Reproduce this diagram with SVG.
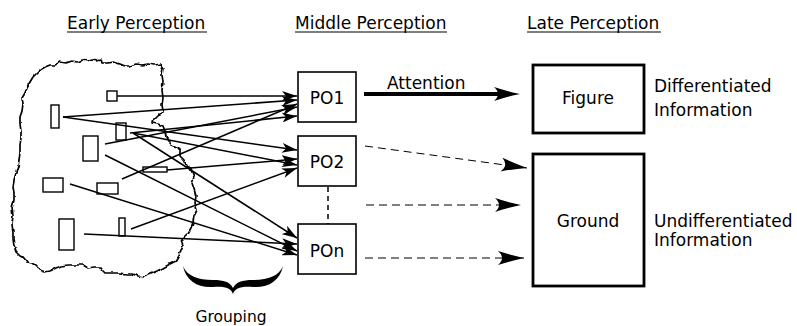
<svg xmlns="http://www.w3.org/2000/svg" width="797" height="326" viewBox="0 0 797 326">
<style>
text{font-family:"DejaVu Sans","Liberation Sans",sans-serif;font-size:17px;fill:#000}
.ul{stroke:#000;stroke-width:1.2}
.el{fill:#fff;stroke:#000;stroke-width:1.4}
.po{fill:#fff;stroke:#000;stroke-width:1.6}
.big{fill:#fff;stroke:#000;stroke-width:2.8}
.ln{stroke:#000;stroke-width:1.5;fill:none;marker-end:url(#sm)}
.dash{stroke:#000;stroke-width:1;fill:none;stroke-dasharray:8 5;marker-end:url(#bh)}
.mid{text-anchor:middle}
</style>
<defs>
<marker id="sm" markerUnits="userSpaceOnUse" viewBox="0 0 15 10" markerWidth="15" markerHeight="10" refX="15" refY="5" orient="auto"><path d="M0,0 L15,5 L0,10 L4,5 Z" fill="#000"/></marker>
<marker id="bh" markerUnits="userSpaceOnUse" viewBox="0 0 26 14" markerWidth="26" markerHeight="14" refX="26" refY="7" orient="auto"><path d="M0,0 Q12,4 26,7 Q12,10 0,14 Q8,7 0,0 Z" fill="#000"/></marker>
<marker id="ath" markerUnits="userSpaceOnUse" viewBox="0 0 26 14" markerWidth="26" markerHeight="14" refX="8" refY="7" orient="auto"><path d="M0,0 Q12,4 26,7 Q12,10 0,14 Q8,7 0,0 Z" fill="#000"/></marker>
<filter id="rough" x="-5%" y="-5%" width="110%" height="110%">
<feTurbulence type="fractalNoise" baseFrequency="0.14" numOctaves="2" seed="4" result="n"/>
<feDisplacementMap in="SourceGraphic" in2="n" scale="4" xChannelSelector="R" yChannelSelector="G"/>
</filter>
</defs>
<rect width="797" height="326" fill="#fff"/>

<g id="headers">
<text x="67" y="29">Early Perception</text>
<line class="ul" x1="67" y1="32" x2="207" y2="32"/>
<text x="295" y="29">Middle Perception</text>
<line class="ul" x1="295" y1="32" x2="447" y2="32"/>
<text x="527" y="29">Late Perception</text>
<line class="ul" x1="527" y1="32" x2="661" y2="32"/>
</g>

<g id="early-region">
<path fill="none" stroke="#000" stroke-width="1.7" stroke-linejoin="round" filter="url(#rough)" d="M40,70 L45,67 L50,65 L55,65 L60,62 L66,63 L72,61 L78,62 L82,60 L87,61 L92,59 L97,60 L101,59 L102,63 L108,63 L114,62 L120,64 L125,66 L130,66 L136,64 L142,65 L148,64 L155,65 L160,64 L163,68 L162,75 L163,82 L162,90 L163,98 L162,105 L163,111 L158,116 L154,120 L153,123 L158,124 L163,126 L165,131 L166,137 L168,141 L172,145 L177,147 L180,150 L180,156 L184,160 L186,165 L190,168 L192,172 L194,177 L192,183 L194,189 L196,196 L195,203 L197,210 L194,216 L193,222 L191,228 L188,233 L184,237 L181,240 L183,245 L181,250 L179,256 L176,261 L170,264 L163,268 L157,271 L150,274 L144,277 L138,276 L132,274 L126,274 L119,273 L112,273 L105,273 L102,270 L100,267 L94,267 L88,268 L83,265 L76,265 L68,265 L61,266 L56,268 L50,271 L45,272 L40,270 L36,266 L32,263 L27,262 L24,258 L20,256 L16,252 L14,246 L13,239 L13,232 L12,224 L13,216 L12,208 L14,200 L14,193 L13,187 L14,180 L16,173 L18,166 L19,160 L20,153 L20,145 L21,138 L21,131 L20,124 L20,117 L22,111 L23,104 L22,98 L25,93 L27,87 L30,82 L33,77 L37,73 Z"/>
</g>

<g id="features">
<rect class="el" x="107" y="91" width="10" height="10"/>
<rect class="el" x="51" y="105" width="8" height="23"/>
<rect class="el" x="116" y="123" width="10" height="17"/>
<rect class="el" x="83" y="136" width="15" height="25"/>
<rect class="el" x="143" y="167" width="24" height="5"/>
<rect class="el" x="43" y="178" width="20" height="14"/>
<rect class="el" x="97" y="183" width="21" height="11"/>
<rect class="el" x="59" y="219" width="15" height="31"/>
<rect class="el" x="119" y="218" width="6" height="18"/>
</g>

<g id="connectors">
<line class="ln" x1="117" y1="96" x2="297" y2="96"/>
<line class="ln" x1="63" y1="117" x2="297" y2="100"/>
<line class="ln" x1="63" y1="117" x2="297" y2="150"/>
<line class="ln" x1="130" y1="133" x2="297" y2="116"/>
<line class="ln" x1="133" y1="133" x2="297" y2="165"/>
<line class="ln" x1="133" y1="133" x2="297" y2="238"/>
<line class="ln" x1="105" y1="144" x2="297" y2="107"/>
<line class="ln" x1="105" y1="155" x2="297" y2="251"/>
<line class="ln" x1="122" y1="179" x2="297" y2="104"/>
<line class="ln" x1="167" y1="170" x2="297" y2="159"/>
<line class="ln" x1="70" y1="184" x2="297" y2="255"/>
<line class="ln" x1="131" y1="229" x2="297" y2="168"/>
<line class="ln" x1="84" y1="234" x2="297" y2="244"/>
<line x1="364" y1="94" x2="502" y2="94" stroke="#000" stroke-width="4" marker-end="url(#ath)"/>
<line class="dash" x1="365" y1="146" x2="527" y2="168"/>
<line class="dash" x1="366" y1="205" x2="521" y2="205"/>
<line class="dash" x1="365" y1="258" x2="524" y2="258"/>
<line x1="328" y1="187" x2="328" y2="224" stroke="#000" stroke-width="1.5" stroke-dasharray="5 4"/>
</g>

<g id="attention-label"><text x="387" y="89">Attention</text></g>

<g id="po1"><rect class="po" x="298" y="72" width="58" height="50"/><text class="mid" x="327" y="104">PO1</text></g>
<g id="po2"><rect class="po" x="298" y="136" width="58" height="50"/><text class="mid" x="327" y="168">PO2</text></g>
<g id="pon"><rect class="po" x="298" y="224" width="58" height="50"/><text class="mid" x="327" y="257">POn</text></g>

<g id="figure"><rect class="big" x="533" y="65" width="111" height="68"/><text class="mid" x="588" y="104">Figure</text></g>
<g id="ground"><rect class="big" x="533" y="154" width="111" height="132"/><text class="mid" x="588" y="227">Ground</text></g>

<g id="labels">
<text x="654" y="92">Differentiated</text>
<text x="654" y="116">Information</text>
<text x="654" y="227">Undifferentiated</text>
<text x="654" y="246">Information</text>
</g>

<g id="grouping">
<path fill="#000" d="M183,266 C186,281 198,288 213,287 C225,286 231,288 233,294 C235,288 241,286 253,287 C268,288 280,281 283,266 C279,276 268,280 253,280 C242,280 236,282 233,288 C230,282 224,280 213,280 C198,280 187,276 183,266 Z"/>
<text class="mid" x="231" y="322" style="font-size:15.5px">Grouping</text>
</g>
</svg>
